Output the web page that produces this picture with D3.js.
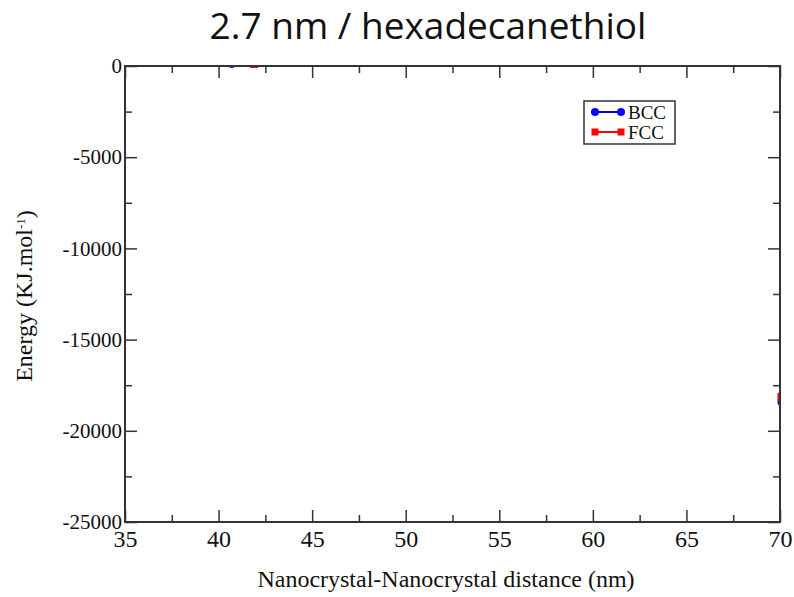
<!DOCTYPE html>
<html>
<head>
<meta charset="utf-8">
<script src="https://cdn.jsdelivr.net/npm/d3@7"></script>
<style>
  html, body { margin: 0; padding: 0; background: #fff; }
  svg { display: block; }
</style>
</head>
<body>
<svg id="chart" width="794" height="597"></svg>
<script>
// Axis ranges and tick values
const xDomain = [35, 70];
const yDomain = [-25000, 0];
const xMajorTicks = [35, 40, 45, 50, 55, 60, 65, 70];
const xMinorTicks = [37.5, 42.5, 47.5, 52.5, 57.5, 62.5, 67.5];
const yMajorTicks = [0, -5000, -10000, -15000, -20000, -25000];
const yMinorTicks = [-2500, -7500, -12500, -17500, -22500];

// Series (distance in nm, energy in KJ/mol); null marks a gap in the curve
const bccDistance = [40.7, null, 70.08];
const bccEnergy   = [110, null, -18420];
const fccDistance = [41.9, null, 70.08];
const fccEnergy   = [110, null, -18140];

const seriesNames = ["BCC", "FCC"];
const seriesColors = ["#0000ff", "#ff0000"];

const svg = d3.select("#chart");
const m = { left: 125, right: 780, top: 66, bottom: 522 };

const x = d3.scaleLinear().domain(xDomain).range([m.left, m.right]);
const y = d3.scaleLinear().domain(yDomain).range([m.bottom, m.top]);

const axisColor = "#333";
const serif = "'Liberation Serif', 'Times New Roman', serif";
const plain = d => String(d);

// Title
svg.append("text")
  .attr("x", 428).attr("y", 39)
  .attr("text-anchor", "middle")
  .style("font-family", "'Open Sans', 'Noto Sans', sans-serif")
  .style("font-size", "37px")
  .style("fill", "#111")
  .text("2.7 nm / hexadecanethiol");

// Data marks, clipped to the plotting frame
svg.append("defs").append("clipPath").attr("id", "plotClip")
  .append("rect")
  .attr("x", m.left).attr("y", m.top)
  .attr("width", m.right - m.left).attr("height", m.bottom - m.top);

const plot = svg.append("g").attr("clip-path", "url(#plotClip)");

function pointsOf(xs, ys) {
  return xs.map((d, i) => ({ x: d, y: ys[i] }));
}
const series = [
  { name: seriesNames[0], pts: pointsOf(bccDistance, bccEnergy), color: seriesColors[0], shape: "circle" },
  { name: seriesNames[1], pts: pointsOf(fccDistance, fccEnergy), color: seriesColors[1], shape: "square" }
];

const line = d3.line()
  .defined(d => d.x !== null && d.y !== null)
  .x(d => x(d.x)).y(d => y(d.y));

series.forEach(s => {
  plot.append("path")
    .attr("d", line(s.pts))
    .attr("fill", "none")
    .attr("stroke", s.color)
    .attr("stroke-width", 2);
  const valid = s.pts.filter(d => d.x !== null && d.y !== null);
  if (s.shape === "circle") {
    plot.selectAll(null).data(valid).enter().append("circle")
      .attr("cx", d => x(d.x)).attr("cy", d => y(d.y)).attr("r", 4)
      .attr("fill", s.color);
  } else {
    plot.selectAll(null).data(valid).enter().append("rect")
      .attr("x", d => x(d.x) - 4).attr("y", d => y(d.y) - 4)
      .attr("width", 8).attr("height", 8)
      .attr("fill", s.color);
  }
});

// Axes: bottom and left with labels, top and right mirrored ticks only
function styleAxis(g) {
  g.attr("font-family", serif);
  g.select(".domain").remove();
  g.selectAll("line").attr("stroke", axisColor).attr("stroke-width", 1.5);
}

const gBottom = svg.append("g").attr("transform", `translate(0,${m.bottom})`)
  .call(d3.axisBottom(x).tickValues(xMajorTicks).tickSize(-12).tickPadding(8).tickFormat(plain));
styleAxis(gBottom);
gBottom.selectAll("text")
  .style("font-family", serif).style("font-size", "24px").style("fill", "#111");
svg.append("g").attr("transform", `translate(0,${m.bottom})`)
  .call(d3.axisBottom(x).tickValues(xMinorTicks).tickSize(-7).tickFormat(""))
  .call(styleAxis);

svg.append("g").attr("transform", `translate(0,${m.top})`)
  .call(d3.axisTop(x).tickValues(xMajorTicks).tickSize(-12).tickFormat(""))
  .call(styleAxis);
svg.append("g").attr("transform", `translate(0,${m.top})`)
  .call(d3.axisTop(x).tickValues(xMinorTicks).tickSize(-7).tickFormat(""))
  .call(styleAxis);

const gLeft = svg.append("g").attr("transform", `translate(${m.left},0)`)
  .call(d3.axisLeft(y).tickValues(yMajorTicks).tickSize(-12).tickPadding(3).tickFormat(plain));
styleAxis(gLeft);
gLeft.selectAll("text")
  .style("font-family", serif).style("font-size", "21px").style("fill", "#111");
svg.append("g").attr("transform", `translate(${m.left},0)`)
  .call(d3.axisLeft(y).tickValues(yMinorTicks).tickSize(-7).tickFormat(""))
  .call(styleAxis);

svg.append("g").attr("transform", `translate(${m.right},0)`)
  .call(d3.axisRight(y).tickValues(yMajorTicks).tickSize(-12).tickFormat(""))
  .call(styleAxis);
svg.append("g").attr("transform", `translate(${m.right},0)`)
  .call(d3.axisRight(y).tickValues(yMinorTicks).tickSize(-7).tickFormat(""))
  .call(styleAxis);

// Frame
svg.append("rect")
  .attr("x", m.left).attr("y", m.top)
  .attr("width", m.right - m.left).attr("height", m.bottom - m.top)
  .attr("fill", "none").attr("stroke", axisColor).attr("stroke-width", 2);

// Axis titles
svg.append("text")
  .attr("x", 446).attr("y", 587)
  .attr("text-anchor", "middle")
  .style("font-family", serif).style("font-size", "24px").style("fill", "#111")
  .text("Nanocrystal-Nanocrystal distance (nm)");

const yTitle = svg.append("text")
  .attr("transform", "translate(32,296) rotate(-90)")
  .attr("text-anchor", "middle")
  .style("font-family", serif).style("font-size", "24px").style("fill", "#111");
yTitle.append("tspan").text("Energy (KJ.mol");
yTitle.append("tspan").attr("dy", "-0.55em").style("font-size", "13px").text("-1");
yTitle.append("tspan").attr("dy", "0.35em").text(")");

// Legend
const legend = svg.append("g");
legend.append("rect")
  .attr("x", 584).attr("y", 101).attr("width", 91).attr("height", 43)
  .attr("fill", "#fff").attr("stroke", axisColor).attr("stroke-width", 1.5);
series.forEach((s, i) => {
  const ly = 112 + i * 20;
  legend.append("line")
    .attr("x1", 595).attr("x2", 621).attr("y1", ly).attr("y2", ly)
    .attr("stroke", s.color).attr("stroke-width", 2);
  [595, 621].forEach(px => {
    if (s.shape === "circle") {
      legend.append("circle").attr("cx", px).attr("cy", ly).attr("r", 4).attr("fill", s.color);
    } else {
      legend.append("rect").attr("x", px - 3.5).attr("y", ly - 3.5)
        .attr("width", 7).attr("height", 7).attr("fill", s.color);
    }
  });
  legend.append("text")
    .attr("x", 628).attr("y", ly + 6.5)
    .style("font-family", serif).style("font-size", "19px").style("fill", "#111")
    .text(s.name);
});
</script>
</body>
</html>
